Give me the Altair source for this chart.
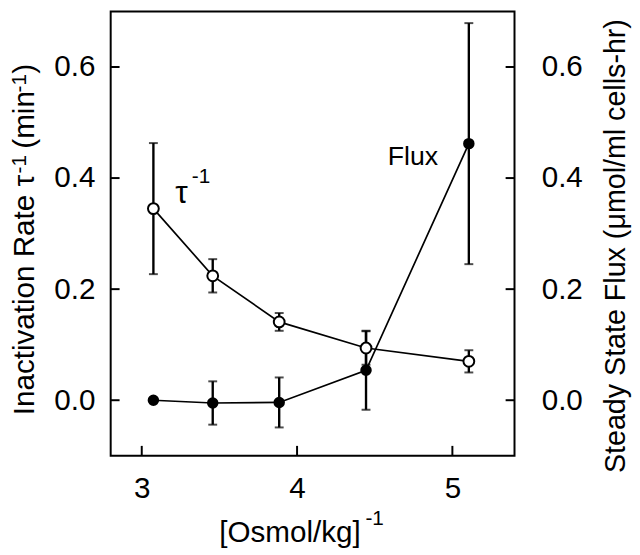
import altair as alt
import pandas as pd

# ---- data ----
osmol_inv = [3.075, 3.457, 3.885, 4.444, 5.106]
tau_rate = [0.345, 0.224, 0.141, 0.094, 0.070]
tau_err = [0.118, 0.030, 0.016, 0.030, 0.020]
flux = [0.000, -0.005, -0.004, 0.054, 0.462]
flux_err = [0.0, 0.039, 0.045, 0.071, 0.217]

x_ticks = [3, 4, 5]
y_ticks = [0.0, 0.2, 0.4, 0.6]

FONT = "Liberation Sans"
W, H = 409, 450

tau_df = pd.DataFrame({"x": osmol_inv, "y": tau_rate, "err": tau_err})
tau_df["lo"] = tau_df["y"] - tau_df["err"]
tau_df["hi"] = tau_df["y"] + tau_df["err"]
flux_df = pd.DataFrame({"x": osmol_inv, "y": flux, "err": flux_err})
flux_df["lo"] = flux_df["y"] - flux_df["err"]
flux_df["hi"] = flux_df["y"] + flux_df["err"]
flux_eb = flux_df[flux_df["err"] > 0]

xscale = alt.Scale(domain=[2.8, 5.4], nice=False, zero=False)
yscale = alt.Scale(domain=[-0.1, 0.7], nice=False, zero=False)

common = dict(
    ticks=False, tickSize=0, domain=False, grid=False,
    labelFont=FONT, labelFontSize=30, labelColor="black",
    titleFont=FONT, titleFontWeight="normal", titleColor="black",
)

xaxis = alt.Axis(title=None, values=x_ticks, format="d", labelPadding=18, **common)
yaxis_left = alt.Axis(orient="left", title=None, values=y_ticks, format=".1f", labelPadding=16, **common)
yaxis_right = alt.Axis(
    orient="right", title="Steady State Flux (μmol/ml cells-hr)", values=y_ticks, format=".1f",
    labelPadding=27, titleFontSize=29, titleAngle=270, titleX=111, titleY=467, titleAlign="left",
    titleBaseline="alphabetic", **common
)


def X(field):
    return alt.X(field, type="quantitative", scale=xscale, axis=xaxis)


def Y(field, axis=None):
    return alt.Y(field, type="quantitative", scale=yscale, axis=axis)


# --- tau (left axis) layers ---
tau_base = alt.Chart(tau_df)
tau_layer = alt.layer(
    tau_base.mark_line(color="black", strokeWidth=1.7).encode(x=X("x"), y=Y("y", yaxis_left)),
    tau_base.mark_rule(color="black", strokeWidth=2.4).encode(x=X("x"), y=Y("lo", yaxis_left), y2="hi"),
    tau_base.mark_tick(color="black", orient="horizontal", size=9, thickness=2).encode(x=X("x"), y=Y("lo", yaxis_left)),
    tau_base.mark_tick(color="black", orient="horizontal", size=9, thickness=2).encode(x=X("x"), y=Y("hi", yaxis_left)),
)

# --- flux (right axis) layers ---
flux_base = alt.Chart(flux_df)
flux_eb_base = alt.Chart(flux_eb)
flux_layer = alt.layer(
    flux_base.mark_line(color="black", strokeWidth=1.7).encode(x=X("x"), y=Y("y", yaxis_right)),
    flux_eb_base.mark_rule(color="black", strokeWidth=2.4).encode(x=X("x"), y=Y("lo", yaxis_right), y2="hi"),
    flux_eb_base.mark_tick(color="black", orient="horizontal", size=9, thickness=2).encode(x=X("x"), y=Y("lo", yaxis_right)),
    flux_eb_base.mark_tick(color="black", orient="horizontal", size=9, thickness=2).encode(x=X("x"), y=Y("hi", yaxis_right)),
    flux_base.mark_circle(color="black", size=135, opacity=1).encode(x=X("x"), y=Y("y", yaxis_right)),
)

tau_points = tau_base.mark_point(
    shape="circle", filled=True, fill="white", stroke="black", strokeWidth=2, size=120, opacity=1
).encode(x=X("x"), y=Y("y"))

# inward ticks
ytick_df = pd.DataFrame({"v": y_ticks})
xtick_df = pd.DataFrame({"v": x_ticks})
left_ticks = alt.Chart(ytick_df).mark_rule(color="black", strokeWidth=2).encode(
    y=Y("v"), x=alt.value(0), x2=alt.value(9)
)
right_ticks = alt.Chart(ytick_df).mark_rule(color="black", strokeWidth=2).encode(
    y=Y("v"), x=alt.value(W - 9), x2=alt.value(W)
)
bottom_ticks = alt.Chart(xtick_df).mark_rule(color="black", strokeWidth=2).encode(
    x=X("v"), y=alt.value(H - 10), y2=alt.value(H)
)

# annotations inside the plot
ann_main = pd.DataFrame({"x": [3.215, 4.584], "y": [0.3545, 0.4235], "t": ["τ", "Flux"], "s": [32, 27]})
ann_sup = pd.DataFrame({"x": [3.322], "y": [0.392], "t": ["-1"]})
ann1 = alt.Chart(ann_main).mark_text(align="left", baseline="alphabetic", font=FONT, color="black").encode(
    x=X("x"), y=Y("y"), text="t:N", size=alt.Size("s:Q", scale=None, legend=None)
)
ann2 = alt.Chart(ann_sup).mark_text(align="left", baseline="alphabetic", font=FONT, fontSize=21, color="black").encode(
    x=X("x"), y=Y("y"), text="t:N"
)

# axis titles with real superscripts (pixel positions relative to the plot area)
title_parts = pd.DataFrame({
    "t": ["[Osmol/kg]", "-1",
          "Inactivation Rate τ", "-1", "(min", "-1", ")"],
    "px": [110, 258, -77.5, -86, -77.5, -86, -77.5],
    "py": [H + 87, H + 70, 409, 164, 139, 82, 63],
    "s": [30, 21, 30, 21, 30, 21, 30],
    "a": [0, 0, 270, 270, 270, 270, 270],
})
titles = alt.Chart(title_parts).mark_text(align="left", baseline="alphabetic", font=FONT, color="black").encode(
    x=alt.X("px:Q", scale=None),
    y=alt.Y("py:Q", scale=None),
    text="t:N",
    size=alt.Size("s:Q", scale=None, legend=None),
    angle=alt.Angle("a:Q", scale=None),
)

chart = alt.layer(
    tau_layer, flux_layer, tau_points, left_ticks, right_ticks, bottom_ticks, ann1, ann2, titles
).resolve_scale(y="independent").properties(
    width=W, height=H,
    autosize=alt.AutoSizeParams(type="none"),
    padding={"left": 104, "top": 0, "right": 119, "bottom": 96},
    background="white",
).configure_view(stroke="black", strokeWidth=2)

chart.save("out.html", embed_options={"renderer": "svg", "actions": False})
